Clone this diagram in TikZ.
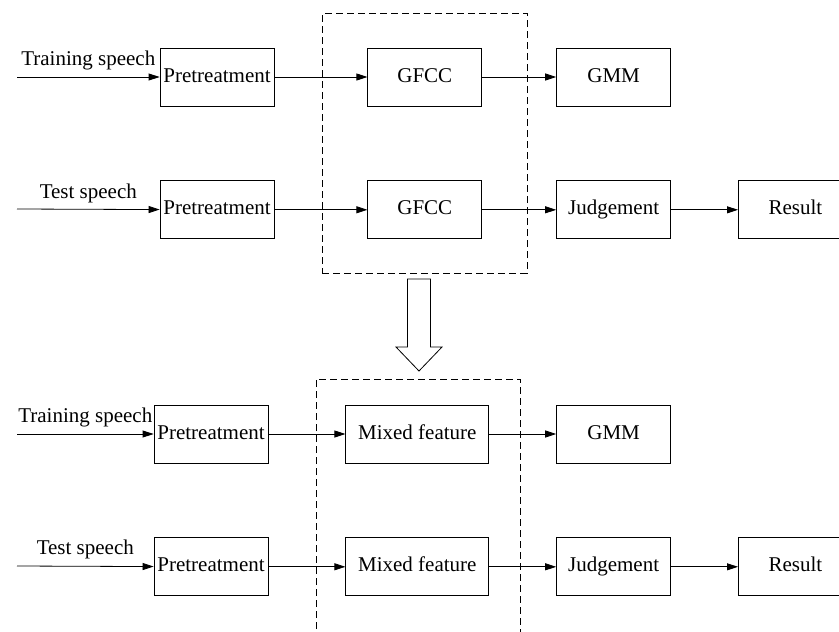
\documentclass[tikz,border=0pt]{standalone}
\usepackage{fontspec}
\setmainfont{Liberation Serif}
\usetikzlibrary{arrows.meta, positioning, fit}
\tikzset{
  procbox/.style  = {draw, line width=0.8pt, minimum width=114pt,
                     minimum height=58pt, inner sep=0pt,
                     text height=14.5pt, text depth=4.5pt},
  widebox/.style  = {procbox, minimum width=143pt},
  flow/.style     = {-{Triangle[length=11pt, width=7pt]}, line width=0.8pt},
  groupbox/.style = {draw, dash pattern=on 7pt off 4pt, line width=0.8pt},
}

\begin{document}
\begin{tikzpicture}[x=1pt, y=-1pt, font=\fontsize{21}{25}\selectfont]
        \useasboundingbox (0,0) rectangle (839,632);
        % upper scheme: GFCC features
        \node[procbox]                    (p1) at (217,77) {Pretreatment};
        \node[procbox, right=93pt of p1]  (g1) {GFCC};
        \node[procbox, right=74pt of g1]  (m1) {GMM};
        \node[procbox, below=74pt of p1]  (p2) {Pretreatment};
        \node[procbox, right=93pt of p2]  (g2) {GFCC};
        \node[procbox, right=74pt of g2]  (j2) {Judgement};
        \node[procbox, right=67pt of j2]  (r2) {Result};
        \coordinate (in1) at (17,77);
        \coordinate (in2) at (17,209);
        \draw[flow] (in1) -- node[above=3pt] {Training speech} (p1);
        \draw[flow] (in2) -- node[above=3pt] {Test speech} (p2);
        \draw[flow] (p1) -- (g1);
        \draw[flow] (g1) -- (m1);
        \draw[flow] (p2) -- (g2);
        \draw[flow] (g2) -- (j2);
        \draw[flow] (j2) -- (r2);
        \node[groupbox, fit=(g1)(g2), inner xsep=45pt, inner ysep=34pt] (gf) {};
        % hollow arrow
        \draw[line width=0.8pt] (407.5,279) -- (430.5,279) -- (430.5,347) -- (442,347)
              -- (419,371) -- (396,347) -- (407.5,347) -- cycle;
        % lower scheme: mixed features
        \node[procbox]                    (p3) at (211,434) {Pretreatment};
        \node[widebox, right=77pt of p3]  (x3) {Mixed feature};
        \node[procbox, right=67pt of x3]  (m3) {GMM};
        \node[procbox, below=74pt of p3]  (p4) {Pretreatment};
        \node[widebox, right=77pt of p4]  (x4) {Mixed feature};
        \node[procbox, right=67pt of x4]  (j4) {Judgement};
        \node[procbox, right=67pt of j4]  (r4) {Result};
        \coordinate (in3) at (17,434);
        \coordinate (in4) at (17,566);
        \draw[flow] (in3) -- node[above=3pt] {Training speech} (p3);
        \draw[flow] (in4) -- node[above=4pt] {Test speech} (p4);
        \draw[flow] (p3) -- (x3);
        \draw[flow] (x3) -- (m3);
        \draw[flow] (p4) -- (x4);
        \draw[flow] (x4) -- (j4);
        \draw[flow] (j4) -- (r4);
        \draw[groupbox] (316,640) -- (316,379) -- (520,379) -- (520,640);
    \end{tikzpicture}
\end{document}
